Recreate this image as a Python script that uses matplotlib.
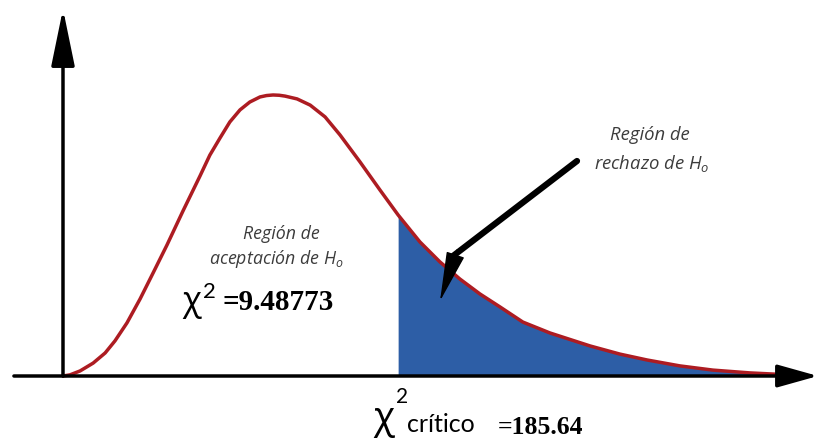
# Chi-square rejection region diagram
import matplotlib.pyplot as plt

plt.rcParams['mathtext.fontset'] = 'custom'
plt.rcParams['mathtext.rm'] = 'Open Sans'
plt.rcParams['mathtext.it'] = 'Open Sans:italic'

# ---------------- Data ----------------
# x in chi-square units, density relative to the peak
chi_x = [0.0, 0.19, 0.47, 0.83, 1.16, 1.43, 1.76, 2.12, 2.48, 2.86, 3.30,
         3.77, 4.04, 4.32, 4.59, 4.87, 5.14, 5.42, 5.60, 5.78, 5.95, 6.11,
         6.44, 6.80, 7.21, 7.62, 8.17, 8.72, 9.22, 9.82, 10.37, 10.92, 11.47,
         12.02, 12.65, 13.40, 14.50, 15.32, 16.07, 16.97, 17.88, 18.90, 20.0]
dens = [0.0, 0.004, 0.018, 0.046, 0.082, 0.125, 0.189, 0.274, 0.367, 0.466,
        0.587, 0.712, 0.786, 0.847, 0.904, 0.947, 0.975, 0.993, 0.998, 1.0,
        0.999, 0.996, 0.986, 0.964, 0.922, 0.858, 0.762, 0.662, 0.573, 0.477,
        0.406, 0.345, 0.292, 0.246, 0.192, 0.153, 0.107, 0.078, 0.057, 0.036,
        0.021, 0.011, 0.004]
x_crit = 9.22

label_accept = ['Región de', 'aceptación de $H_o$']
label_reject = ['Región de', 'rechazo de $H_o$']
chi_calc = '=9.48773'
chi_crit = '=185.64'
# --------------------------------------------------------------

W, H = 820, 441
fig = plt.figure(figsize=(W / 100, H / 100), dpi=100)
ax = fig.add_axes([0, 0, 1, 1])
ax.set_xlim(-1.733, 20.826)
ax.set_ylim(-0.2313, 1.338)
ax.axis('off')


def fp(px, py):
    # figure fraction from a pixel position (top-left origin)
    return px / W, 1 - py / H


# tail region
tail_x = [x for x in chi_x if x >= x_crit]
tail_y = [y for x, y in zip(chi_x, dens) if x >= x_crit]
ax.fill_between(tail_x, 0, tail_y, color='#2d5ea6', lw=0, zorder=1)
ax.plot(chi_x, dens, color='#ad1c22', lw=2.5, solid_capstyle='round',
        solid_joinstyle='round', zorder=2)

# axes with arrow heads
ax.annotate('', xy=(20.77, 0), xytext=(-1.35, 0),
            arrowprops=dict(arrowstyle='-|>,head_length=2.5,head_width=0.7',
                            mutation_scale=10, lw=2.5, color='black',
                            shrinkA=0, shrinkB=0), zorder=3)
ax.annotate('', xy=(0, 1.306), xytext=(0, 0),
            arrowprops=dict(arrowstyle='-|>,head_length=3.5,head_width=0.72',
                            mutation_scale=10, lw=2.5, color='black',
                            shrinkA=0, shrinkB=0), zorder=3)

# pointer arrow to the rejection region
ax.annotate('', xy=(453, H - 256), xytext=(577, H - 161), xycoords='figure pixels',
            arrowprops=dict(arrowstyle='-', lw=4.5, color='black',
                            capstyle='round', shrinkA=0, shrinkB=0), zorder=4)
ax.annotate('', xy=(440, H - 301), xytext=(457, H - 250), xycoords='figure pixels',
            arrowprops=dict(arrowstyle='-|>,head_length=3.2,head_width=0.6',
                            mutation_scale=10, lw=1, color='black',
                            shrinkA=0, shrinkB=0), zorder=4)

# region labels
grey = '#3c3c3c'
lab = dict(family='Open Sans', style='italic', color=grey,
           ha='center', va='baseline')
fig.text(*fp(281, 239), label_accept[0], fontsize=12.8, **lab)
fig.text(*fp(276, 264), label_accept[1], fontsize=12.8, **lab)
fig.text(*fp(650, 140), label_reject[0], fontsize=13.3, **lab)
fig.text(*fp(652, 169), label_reject[1], fontsize=13.3, **lab)

# chi-square values
fig.text(*fp(182, 311), 'χ', family='Open Sans', fontsize=25, ha='left', va='baseline')
fig.text(*fp(203, 298), '2', family='Lato', fontsize=16, ha='left', va='baseline')
fig.text(*fp(223, 310), chi_calc, family='Liberation Serif', weight='bold',
         fontsize=21, ha='left', va='baseline')

fig.text(*fp(373, 429), 'χ', family='Open Sans', fontsize=28, ha='left', va='baseline')
fig.text(*fp(396, 403), '2', family='Lato', fontsize=15, ha='left', va='baseline')
fig.text(*fp(407, 432), 'crítico', family='Lato', fontsize=18, ha='left', va='baseline')
fig.text(*fp(498, 434), chi_crit, family='Liberation Serif', weight='bold',
         fontsize=18.5, ha='left', va='baseline')

fig.savefig('out.png', dpi=100)
